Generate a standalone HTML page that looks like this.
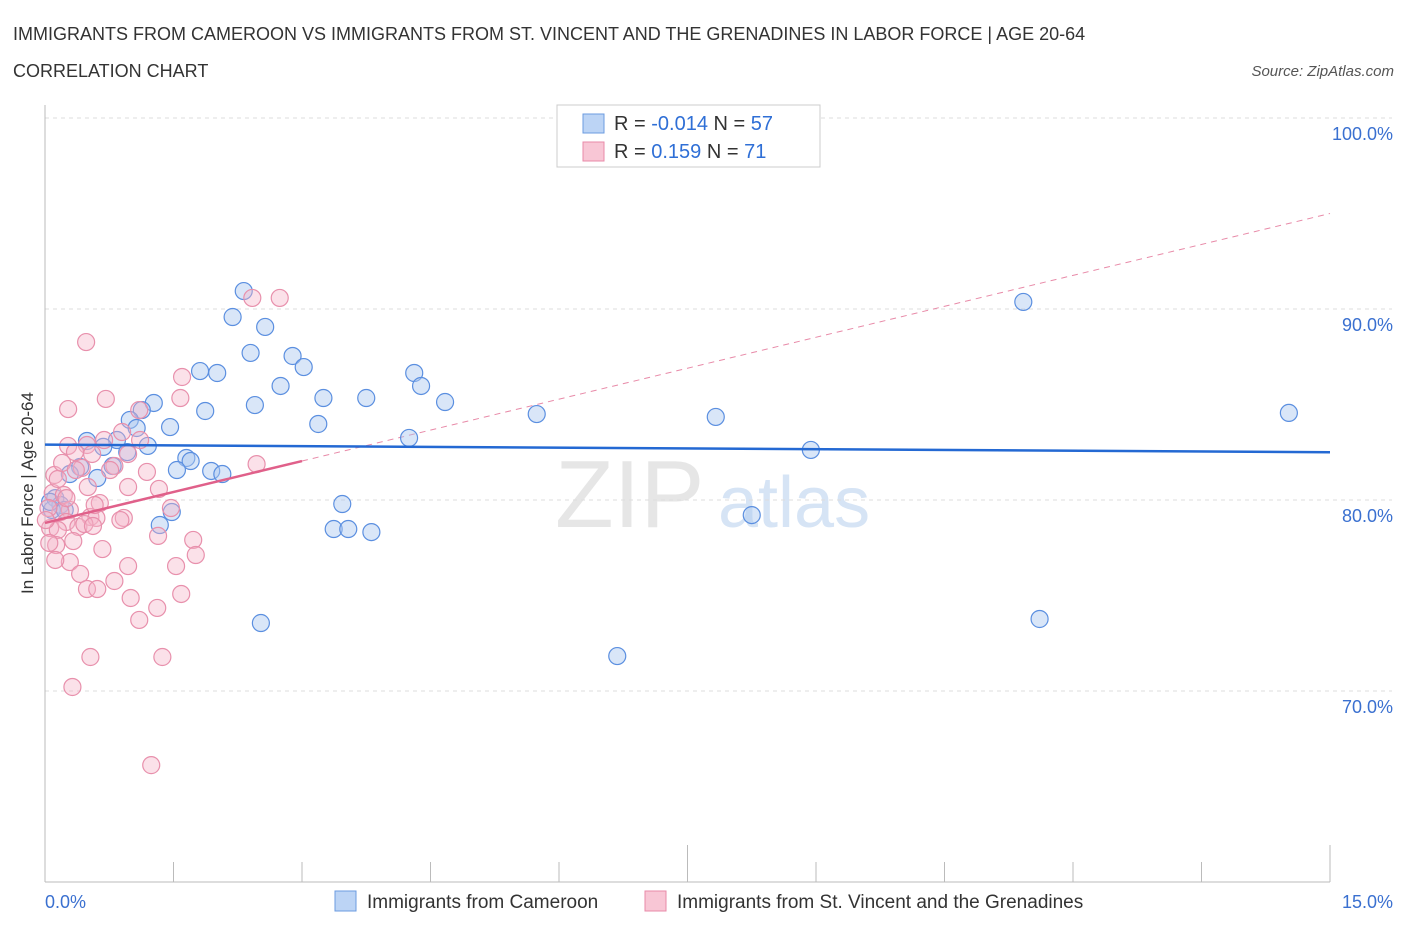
<!DOCTYPE html>
<html><head><meta charset="utf-8"><style>
body{margin:0;background:#fff;font-family:"Liberation Sans",sans-serif;}
svg text{font-family:"Liberation Sans",sans-serif;}
</style></head><body>
<svg id="chart" width="1406" height="930" viewBox="0 0 1406 930" xmlns="http://www.w3.org/2000/svg">
<text x="13" y="40" font-size="18" fill="#333">IMMIGRANTS FROM CAMEROON VS IMMIGRANTS FROM ST. VINCENT AND THE GRENADINES IN LABOR FORCE | AGE 20-64</text>
<text x="13" y="77" font-size="18" fill="#333">CORRELATION CHART</text>
<text x="1394" y="76" font-size="15" fill="#555" text-anchor="end" font-style="italic">Source: ZipAtlas.com</text>
<text x="555" y="527" font-size="96" fill="#e6e6e6" font-family="Liberation Serif">ZIP</text>
<text x="718" y="527" font-size="72" fill="#d6e4f5">atlas</text>
<g id="grid"></g>
<g id="axes"></g>
<g id="trends"></g>
<g id="points"></g>
<text transform="translate(33,493) rotate(-90)" font-size="17" fill="#333" text-anchor="middle">In Labor Force | Age 20-64</text>
<g>
<rect x="557" y="105" width="263" height="62" fill="#fff" stroke="#ccc"/>
<rect x="583" y="114" width="21" height="19" fill="#bcd4f5" stroke="#6b9be0"/>
<rect x="583" y="142" width="21" height="19" fill="#f8c6d5" stroke="#e88aa8"/>
<text x="614" y="130" font-size="20" fill="#333">R = <tspan fill="#2f6fd6">-0.014</tspan>   N = <tspan fill="#2f6fd6">57</tspan></text>
<text x="614" y="158" font-size="20" fill="#333">R =   <tspan fill="#2f6fd6">0.159</tspan>   N =  <tspan fill="#2f6fd6">71</tspan></text>
</g>
<g>
<rect x="335" y="891" width="21" height="20" fill="#bcd4f5" stroke="#6b9be0"/>
<text x="367" y="908" font-size="19" fill="#333">Immigrants from Cameroon</text>
<rect x="645" y="891" width="21" height="20" fill="#f8c6d5" stroke="#e88aa8"/>
<text x="677" y="908" font-size="19" fill="#333">Immigrants from St. Vincent and the Grenadines</text>
</g>
</svg>
<script>
const yTicks=[100,90,80,70];
const yTickLabels=["100.0%","90.0%","80.0%","70.0%"];
const xTickLabels=["0.0%","15.0%"];
const blueX=[2.32,2.19,2.57,2.40,2.89,3.02,1.81,2.01,2.75,4.31,4.39,3.25,3.75,4.67,1.27,1.13,2.45,1.87,5.74,7.83,14.52,11.42,0.99,1.07,1.46,3.19,4.25,0.84,0.49,1.20,0.68,0.96,1.65,1.70,8.94,0.41,0.79,1.54,1.94,2.07,0.29,0.61,3.47,8.25,1.48,1.34,3.37,3.54,3.81,0.12,0.18,0.08,2.52,6.68,11.61,0.06,0.23];
const blueY=[90.94,89.58,89.06,87.70,87.54,86.96,86.75,86.65,85.97,86.65,85.97,85.34,85.34,85.13,85.08,84.71,84.97,84.66,84.50,84.35,84.56,90.37,84.19,83.77,83.82,83.98,83.25,83.14,83.09,82.83,82.78,82.51,82.20,82.04,82.62,81.73,81.78,81.57,81.52,81.36,81.36,81.15,79.79,79.21,79.37,78.69,78.48,78.48,78.32,80.10,79.74,79.48,73.56,71.83,73.77,79.90,79.48];
const pinkX=[2.42,2.74,0.48,1.60,0.27,0.71,1.58,1.10,0.90,0.27,0.49,0.35,0.55,0.97,0.81,0.43,0.11,1.19,0.50,0.97,1.33,0.09,0.22,0.29,0.18,0.04,0.53,0.92,0.60,0.25,0.39,0.46,0.56,0.06,0.15,1.32,1.73,0.33,0.13,0.05,0.67,1.76,0.29,0.41,1.53,0.97,0.81,0.49,0.61,1.59,1.00,1.31,1.10,0.53,1.37,0.32,1.24,2.47,1.47,0.64,0.15,0.20,0.01,0.76,0.36,1.11,0.88,0.12,0.69,0.25,0.58];
const pinkY=[90.58,90.58,88.27,86.44,84.76,85.29,85.34,84.71,83.56,82.83,82.88,82.51,82.41,82.41,81.78,81.68,81.31,81.47,80.68,80.68,80.58,80.37,80.26,79.48,79.37,79.58,79.11,79.06,79.06,78.85,78.59,78.74,78.64,78.53,78.43,78.12,77.91,77.85,77.64,77.75,77.43,77.12,76.75,76.13,76.54,76.54,75.76,75.34,75.34,75.08,74.87,74.35,73.72,71.78,71.78,70.21,66.12,81.88,79.58,79.84,81.10,81.94,78.95,81.57,81.57,83.14,78.95,76.86,83.14,80.10,79.74];
const blueTrend=[82.9,82.5];
const pinkTrend=[78.8,95.0];
const pinkSolidEnd=3.0;

const X0=45,X1=1330;
function sx(v){return X0+(v/15)*(X1-X0);}
function sy(v){return 500-(v-80)*19.1;}
const NS="http://www.w3.org/2000/svg";
function mk(tag,attrs,parent){const e=document.createElementNS(NS,tag);for(const k in attrs)e.setAttribute(k,attrs[k]);parent.appendChild(e);return e;}
const grid=document.getElementById('grid'),axes=document.getElementById('axes'),trends=document.getElementById('trends'),pts=document.getElementById('points');
yTicks.forEach((t,i)=>{
  const l=mk('line',{x1:X0,x2:1392,y1:sy(t),y2:sy(t),stroke:'#ddd','stroke-dasharray':'4,4'},grid);
  
  
  const tx=mk('text',{x:1393,y:sy(t)+22,'font-size':18,fill:'#3a70d0','text-anchor':'end'},axes);
  tx.textContent=yTickLabels[i];
  
  
});
let a=mk('line',{x1:X0,x2:X0,y1:105,y2:882,stroke:'#bbb'},axes);


a=mk('line',{x1:X0,x2:X1,y1:882,y2:882,stroke:'#bbb'},axes);


for(let i=0;i<=10;i++){
  const x=sx(i*1.5);
  const t=mk('line',{x1:x,x2:x,y1:i%5===0?845:862,y2:882,stroke:'#bbb'},axes);
  
  
}
let xl=mk('text',{x:45,y:908,'font-size':18,fill:'#3a70d0'},axes);xl.textContent=xTickLabels[0];


xl=mk('text',{x:1393,y:908,'font-size':18,fill:'#3a70d0','text-anchor':'end'},axes);xl.textContent=xTickLabels[1];



function ptY(tr,x){return tr[0]+(tr[1]-tr[0])*x/15;}
let tl=mk('line',{x1:sx(pinkSolidEnd),y1:sy(ptY(pinkTrend,pinkSolidEnd)),x2:sx(15),y2:sy(pinkTrend[1]),stroke:'#e88aa8','stroke-width':1,'stroke-dasharray':'6,5'},trends);



blueX.forEach((v,i)=>{
  const c=mk('circle',{cx:sx(v),cy:sy(blueY[i]),r:8.5,fill:'rgba(170,200,240,0.45)',stroke:'#5b8fe0','stroke-width':1.2},pts);
  
  
});
pinkX.forEach((v,i)=>{
  const c=mk('circle',{cx:sx(v),cy:sy(pinkY[i]),r:8.5,fill:'rgba(245,180,200,0.4)',stroke:'#e890ac','stroke-width':1.2},pts);
  
  
});
tl=mk('line',{x1:sx(0),y1:sy(blueTrend[0]),x2:sx(15),y2:sy(blueTrend[1]),stroke:'#2469d3','stroke-width':2.5},pts);


tl=mk('line',{x1:sx(0),y1:sy(pinkTrend[0]),x2:sx(pinkSolidEnd),y2:sy(ptY(pinkTrend,pinkSolidEnd)),stroke:'#e0608a','stroke-width':2.5},pts);


</script>
</body></html>
